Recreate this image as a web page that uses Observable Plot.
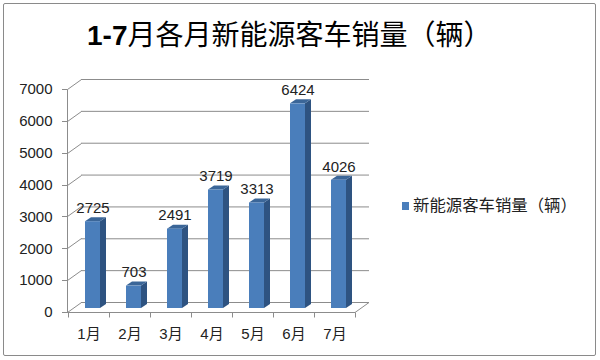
<!DOCTYPE html>
<html><head><meta charset="utf-8">
<script src="https://cdn.jsdelivr.net/npm/d3@7"></script>
<script src="https://cdn.jsdelivr.net/npm/@observablehq/plot@0.6"></script>
<style>
body{margin:0;background:#fff}
#wrap{position:relative;width:600px;height:360px;overflow:hidden;background:#fff;font-family:"Liberation Sans","Noto Sans CJK SC",sans-serif}
#border{position:absolute;left:3px;top:3px;width:591px;height:351px;border:1.5px solid #8a8a8a;border-radius:2px;pointer-events:none}
#title{height:60px;box-sizing:border-box;padding-left:87px;padding-top:19px;font-size:28px;line-height:28px;color:#000;white-space:nowrap}
#title b{font-family:"Liberation Sans",sans-serif;font-weight:bold}
#title span{font-family:"Noto Sans CJK SC",sans-serif;font-weight:400}
#legend{position:absolute;left:402px;top:193px;font-family:"Noto Sans CJK SC",sans-serif;font-size:16.4px;line-height:22px;color:#222;white-space:nowrap}
#legend i{display:inline-block;width:7px;height:8px;background:#4a7ebb;margin-right:4px;vertical-align:middle;position:relative;top:-1px}
#chart svg{display:block}
</style></head>
<body>
<div id="wrap">
  <div id="title"></div>
  <div id="chart"></div>
  <div id="legend"></div>
  <div id="border"></div>
</div>
<script>
// ---- data ----
const titleBold = "1-7";
const titleRest = "月各月新能源客车销量（辆）";
const months = ["1月","2月","3月","4月","5月","6月","7月"];
const sales = [2725, 703, 2491, 3719, 3313, 6424, 4026];
const yTicks = [0,1000,2000,3000,4000,5000,6000,7000];
const seriesName = "新能源客车销量（辆）";

// ---- styles ----
const AXIS = "#8c8c8c";
const FRONT = "#4a7ebb", SIDE = "#2e5381", TOP = "#3b6698";
const WALL_DX = 14, WALL_DY = -10;   // back-wall depth offset
const BAR_DX = 4, BAR_DY = -4;       // bar position in depth
const SIDE_DX = 6, SIDE_DY = -4;     // bar depth
const INSET = 13;

document.getElementById("title").innerHTML = `<b>${titleBold}</b><span>${titleRest}</span>`;
document.getElementById("legend").innerHTML = `<i></i>${seriesName}`;

const data = months.map((m, i) => ({month: m, sales: sales[i]}));

function frameRender(index, scales, values, dims) {
  const {x, y} = scales;
  const x0 = dims.marginLeft, x1 = dims.width - dims.marginRight;
  const yb = y(0), yt = y(yTicks[yTicks.length - 1]);
  const p = d3.path();
  p.moveTo(x0 + .5, yb + .5); p.lineTo(x0 + .5, yt + .5);
  for (const i of index) {
    const yy = Math.round(y(yTicks[i])) + .5;
    p.moveTo(x0 - 5, yy); p.lineTo(x0 + .5, yy);
    p.lineTo(x0 + .5 + WALL_DX, yy + WALL_DY);
  }
  const yf = Math.round(yb) + .5;
  p.moveTo(x0, yf); p.lineTo(x1, yf); p.lineTo(x1 + WALL_DX, yf + WALL_DY);
  const bw = x.bandwidth ? x.bandwidth() : (x1 - x0) / months.length;
  const edges = months.map(m => x(m)).concat([x(months[months.length - 1]) + bw]);
  for (const e of edges) { const xx = Math.round(e) + .5; p.moveTo(xx, yf); p.lineTo(xx, yf + 5); }
  const g = d3.create("svg:g");
  g.append("path").attr("d", p.toString()).attr("fill", "none").attr("stroke", AXIS).attr("stroke-width", 1);
  return g.node();
}

function bar3dRender(index, scales, values, dims) {
  const {x, y} = scales;
  const bw = x.bandwidth();
  const g = d3.create("svg:g");
  for (const i of index) {
    const d = data[i];
    const l = x(d.month) + INSET + BAR_DX, r = x(d.month) + bw - INSET + BAR_DX;
    const t = y(d.sales) + BAR_DY, b = y(0) + BAR_DY;
    g.append("path").attr("fill", SIDE)
      .attr("d", `M${r},${t}L${r + SIDE_DX},${t + SIDE_DY}L${r + SIDE_DX},${b + SIDE_DY}L${r},${b}Z`);
    g.append("path").attr("fill", TOP)
      .attr("d", `M${l},${t}L${r},${t}L${r + SIDE_DX},${t + SIDE_DY}L${l + SIDE_DX},${t + SIDE_DY}Z`);
  }
  return g.node();
}

const chart = Plot.plot({
  width: 600, height: 300,
  marginLeft: 67, marginRight: 245, marginTop: 29, marginBottom: 48,
  x: {domain: months, padding: 0, label: null},
  y: {domain: [0, 7000], label: null},
  style: {fontFamily: '"Liberation Sans","Noto Sans CJK SC",sans-serif', background: "transparent", color: "#222"},
  marks: [
    Plot.ruleY(yTicks, {dx: WALL_DX, dy: WALL_DY, stroke: AXIS, strokeWidth: 1}),
    Plot.ruleY(yTicks, {render: frameRender}),
    Plot.axisY({ticks: yTicks, tickSize: 0, tickPadding: 15, fontSize: 15, fill: "#222", label: null, tickFormat: d => String(d)}),
    Plot.axisX({tickSize: 0, tickPadding: 16, fontSize: 15, fill: "#222", label: null}),
    Plot.barY(data, {x: "month", y: "sales", render: bar3dRender}),
    Plot.barY(data, {x: "month", y: "sales", fill: FRONT, insetLeft: INSET, insetRight: INSET, dx: BAR_DX, dy: BAR_DY}),
    Plot.text(data, {x: "month", y: "sales", text: d => String(d.sales), dx: BAR_DX, dy: -17.5, fontSize: 15, fill: "#222"})
  ]
});
document.getElementById("chart").appendChild(chart);
</script>
</body></html>
